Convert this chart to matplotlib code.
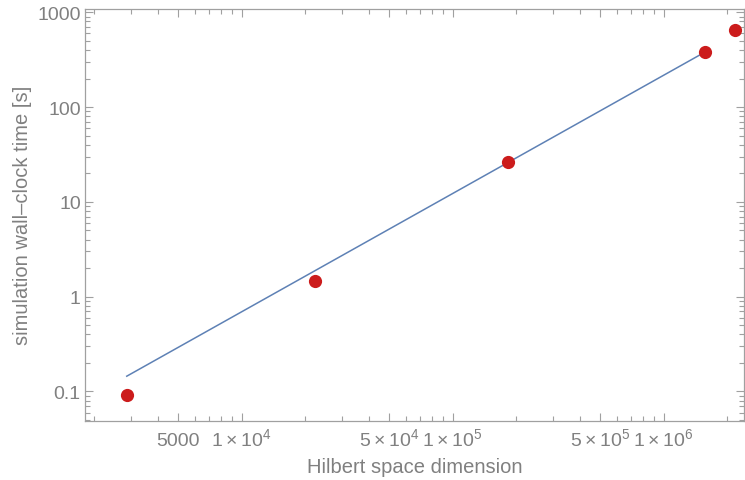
import numpy as np
import matplotlib
matplotlib.use("Agg")
import matplotlib.pyplot as plt
from matplotlib.ticker import FixedLocator, FixedFormatter

# measured runs: Hilbert space dimension vs wall-clock time [s]
dims = [2850, 22200, 183000, 1.57e6, 2.18e6]
times = [0.092, 1.46, 26.4, 378, 650]

# power-law guide line (end points of the drawn segment)
fit_dims = [2850, 1.51e6]
fit_times = [0.145, 363]

xticks = [5e3, 1e4, 5e4, 1e5, 5e5, 1e6]
xlabels = ["5000", r"$\mathregular{1\times10^{4}}$", r"$\mathregular{5\times10^{4}}$",
           r"$\mathregular{1\times10^{5}}$", r"$\mathregular{5\times10^{5}}$",
           r"$\mathregular{1\times10^{6}}$"]
yticks = [0.1, 1, 10, 100, 1000]
ylabels = ["0.1", "1", "10", "100", "1000"]

GRAY = "#808080"
FRAME = "#a0a0a0"

plt.rcParams["font.family"] = ["Liberation Sans", "DejaVu Sans"]
plt.rcParams["mathtext.fontset"] = "custom"
plt.rcParams["mathtext.rm"] = "Liberation Sans"

fig = plt.figure(figsize=(7.45, 4.81), dpi=100)
ax = fig.add_axes([85 / 745, 1 - 421.7 / 481, (744 - 85) / 745, (421.7 - 10) / 481])

ax.plot(fit_dims, fit_times, color="#5e81b5", lw=1.1)
ax.plot(dims, times, "o", color="#cc1c1c", ms=9.5, mec="none")

ax.set_xscale("log")
ax.set_yscale("log")
ax.set_xlim(1807, 2.40e6)
ax.set_ylim(0.0492, 1083)

ax.xaxis.set_major_locator(FixedLocator(xticks))
ax.xaxis.set_major_formatter(FixedFormatter(xlabels))
xminor = [m * 10 ** e for e in range(3, 7) for m in range(1, 10)
          if m * 10 ** e not in xticks]
ax.xaxis.set_minor_locator(FixedLocator(xminor))
ax.yaxis.set_major_locator(FixedLocator(yticks))
ax.yaxis.set_major_formatter(FixedFormatter(ylabels))
yminor = [m * 10.0 ** e for e in range(-2, 4) for m in range(2, 10)]
ax.yaxis.set_minor_locator(FixedLocator(yminor))

ax.tick_params(which="both", direction="in", top=True, right=True,
               color=FRAME, labelcolor=GRAY, labelsize=14)
ax.tick_params(which="major", length=6, width=0.8)
ax.tick_params(which="minor", length=3.5, width=0.8)
ax.tick_params(axis="x", which="major", pad=17.5)
ax.tick_params(axis="y", which="major", pad=3)
# keep plain and 1x10^n labels on one baseline
for lab in ax.xaxis.get_majorticklabels():
    lab.set_verticalalignment("baseline")
for s in ax.spines.values():
    s.set_color(FRAME)
    s.set_linewidth(0.9)

ax.set_xlabel("Hilbert space dimension", color=GRAY, fontsize=14.5, labelpad=6)
ax.set_ylabel("simulation wall–clock time [s]", color=GRAY, fontsize=14.5, labelpad=4)

fig.savefig("out.png", dpi=100)
